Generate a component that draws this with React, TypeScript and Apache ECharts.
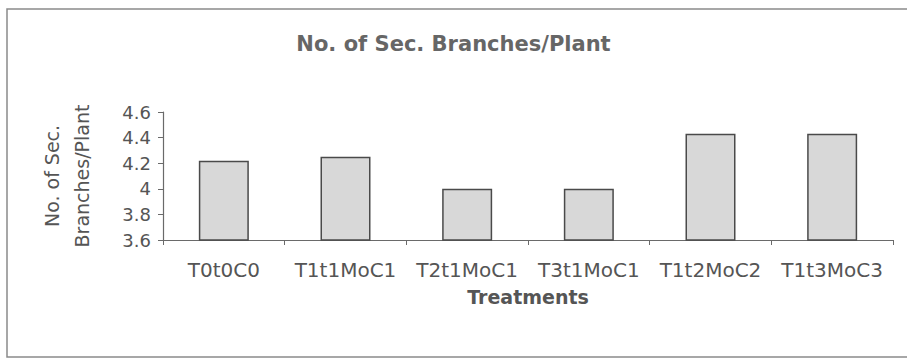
import React, { useEffect, useRef } from "react";
import * as echarts from "echarts";

const categories = ["T0t0C0", "T1t1MoC1", "T2t1MoC1", "T3t1MoC1", "T1t2MoC2", "T1t3MoC3"];
const values = [4.22, 4.25, 4.0, 4.0, 4.43, 4.43];
const yMin = 3.6;
const yMax = 4.6;
const yStep = 0.2;
const chartTitle = "No. of Sec. Branches/Plant";
const xName = "Treatments";
const yName = "No. of Sec.\nBranches/Plant";

export default function App() {
  const ref = useRef<HTMLDivElement>(null);
  useEffect(() => {
    if (!ref.current) return;
    const chart = echarts.init(ref.current, null, { renderer: "svg" });
    const font = "DejaVu Sans";
    chart.setOption({
      animation: false,
      backgroundColor: "#ffffff",
      title: {
        text: chartTitle,
        left: "center",
        top: 28,
        textStyle: { fontFamily: font, fontSize: 21, fontWeight: "bold", color: "#666666" },
      },
      graphic: [
        {
          type: "rect",
          shape: { x: 7, y: 9, width: 920, height: 348 },
          style: { fill: "none", stroke: "#8a8a8a", lineWidth: 1.5 },
          silent: true,
        },
      ],
      grid: { left: 163, right: 14, top: 112, bottom: 123, containLabel: false },
      xAxis: {
        type: "category",
        data: categories,
        name: xName,
        nameLocation: "middle",
        nameGap: 47,
        nameTextStyle: { fontFamily: font, fontSize: 19, fontWeight: "bold", color: "#555555" },
        axisLine: { lineStyle: { color: "#6a6a6a", width: 1.2 } },
        axisTick: { show: true, alignWithLabel: false, length: 5, lineStyle: { color: "#6a6a6a" } },
        axisLabel: { interval: 0, margin: 20, fontFamily: font, fontSize: 20, color: "#555555" },
      },
      yAxis: {
        type: "value",
        min: yMin,
        max: yMax,
        interval: yStep,
        name: yName,
        nameLocation: "middle",
        nameGap: 66,
        nameRotate: 90,
        nameTextStyle: { fontFamily: font, fontSize: 19, color: "#555555", lineHeight: 30, align: "center" },
        axisLine: { show: true, lineStyle: { color: "#6a6a6a", width: 1.2 } },
        axisTick: { show: true, length: 5, lineStyle: { color: "#6a6a6a" } },
        splitLine: { show: false },
        axisLabel: {
          margin: 12,
          fontFamily: font,
          fontSize: 18,
          color: "#555555",
          formatter: (v: number) => String(+v.toFixed(1)),
        },
      },
      series: [
        {
          type: "bar",
          data: values,
          barWidth: 50,
          itemStyle: { color: "#d8d8d8", borderColor: "#4a4a4a", borderWidth: 1.5 },
        },
      ],
    });
    return () => chart.dispose();
  }, []);
  return (
    <div
      ref={ref}
      style={{ position: "fixed", left: 0, top: 0, width: 907, height: 363 }}
    />
  );
}
